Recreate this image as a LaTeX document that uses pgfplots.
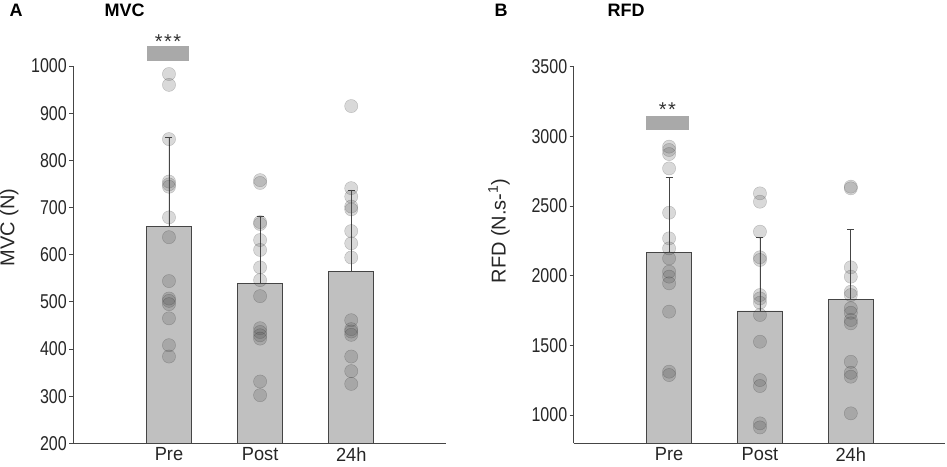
\documentclass[border=0pt]{standalone}
\usepackage{fontspec}
\setmainfont{Liberation Sans}
\newfontfamily\digitfont{Liberation Sans}[FakeStretch=0.8]
\newfontfamily\catfont{Liberation Sans}[FakeStretch=0.96]
\usepackage{pgfplots}
\usepackage{pgfplotstable}
\pgfplotsset{compat=1.18}
\definecolor{barfill}{HTML}{C0C0C0}
\definecolor{edge}{HTML}{454545}
\definecolor{dotc}{HTML}{525252}
\definecolor{sigc}{HTML}{A9A9A9}

\pgfplotstableread{
x y e
0 659 190
1 538.5 142
2 564 173
}\mvcbars
\pgfplotstableread{
x y e
0 2168 535
1 1747 531
2 1830 505
}\rfdbars
\pgfplotstableread{
x y
0 983
0 960
0 845
0 755
0 749
0 744
0 679
0 637
0 544
0 507
0 502
0 495
0 465
0 408
0 384
1 758
1 752
1 669
1 665
1 631
1 610
1 573
1 546
1 512
1 444
1 436
1 429
1 422
1 331
1 302
2 915
2 741
2 723
2 702
2 696
2 650
2 624
2 594
2 461
2 442
2 437
2 430
2 384
2 353
2 326
}\mvcpts
\pgfplotstableread{
x y
0 2926
0 2902
0 2873
0 2770
0 2452
0 2268
0 2196
0 2124
0 2029
0 1993
0 1945
0 1742
0 1311
0 1287
1 2591
1 2531
1 2316
1 2132
1 2113
1 1861
1 1837
1 1806
1 1718
1 1526
1 1251
1 1208
1 940
1 911
2 2639
2 2627
2 2060
2 1993
2 1885
2 1861
2 1766
2 1734
2 1682
2 1658
2 1382
2 1303
2 1275
2 1012
}\rfdpts

\pgfplotsset{mystyle/.style={
  scale only axis, width=372.7pt, height=377.3pt,
  axis x line=bottom, axis y line=left,
  axis line style={edge, line width=0.8pt, -},
  xmin=-1.05, xmax=3.04,
  xtick={0,1,2}, xticklabels={Pre,Post,24h},
  x tick style={draw=none},
  y tick style={edge, line width=0.8pt},
  tick align=outside, major tick length=4pt,
  yticklabel style={font=\fontsize{20}{22}\selectfont\digitfont, text=black!85, xshift=1pt},
  xticklabel style={font=\fontsize{19}{20}\selectfont\catfont, text=black!85, inner sep=0pt, anchor=north, yshift=0pt},
  label style={font=\fontsize{20}{22}\selectfont, text=black!85},
  /pgf/number format/assume math mode=true,
  /pgf/number format/1000 sep={},
  clip=false,
}}

\begin{document}
\begin{tikzpicture}
\useasboundingbox (0,0) rectangle (947pt,466pt);
\node[anchor=base west, font=\fontsize{18}{20}\selectfont\bfseries] at (6pt,449pt) {A};
\node[anchor=base west, font=\fontsize{18}{20}\selectfont\bfseries] at (101pt,449pt) {MVC};
\node[anchor=base west, font=\fontsize{18}{20}\selectfont\bfseries] at (491pt,449pt) {B};
\node[anchor=base west, font=\fontsize{18}{20}\selectfont\bfseries] at (604pt,449pt) {RFD};

\begin{axis}[mystyle, at={(73.3pt,22.7pt)}, anchor=south west,
  ymin=200, ymax=1000, ytick={200,300,...,1000},
  ylabel={MVC (N)},
  ylabel style={at={(axis description cs:-0.172,0.572)}, anchor=center}]
\addplot[ybar, bar width=0.495, fill=barfill, draw=edge, line width=0.8pt,
  error bars/.cd, y dir=plus, y explicit,
  error bar style={edge, line width=0.8pt},
  error mark options={rotate=90, mark size=3.5pt, edge, line width=0.8pt}]
  table[x=x, y=y, y error=e] {\mvcbars};
\addplot[only marks, mark=*, mark size=6.6pt, mark options={fill=dotc, draw=none, opacity=0.22}] table[x=x,y=y] {\mvcpts};
\addplot[fill=sigc, draw=none] coordinates {(-0.245,1011) (0.225,1011) (0.225,1042) (-0.245,1042)} -- cycle;
\node[font=\fontsize{20}{20}\selectfont, text=black!80] at (axis cs:-0.01,1052) {*\kern1.5pt*\kern1.5pt*};
\end{axis}

\begin{axis}[mystyle, at={(573.7pt,22.7pt)}, anchor=south west, width=371.6pt, height=376.6pt,
  ymin=797, ymax=3500, ytick={1000,1500,...,3500},
  ylabel={RFD (N.s-\textsuperscript{1})},
  ylabel style={at={(axis description cs:-0.201,0.564)}, anchor=center}]
\addplot[ybar, bar width=0.495, fill=barfill, draw=edge, line width=0.8pt,
  error bars/.cd, y dir=plus, y explicit,
  error bar style={edge, line width=0.8pt},
  error mark options={rotate=90, mark size=3.5pt, edge, line width=0.8pt}]
  table[x=x, y=y, y error=e] {\rfdbars};
\addplot[only marks, mark=*, mark size=6.6pt, mark options={fill=dotc, draw=none, opacity=0.22}] table[x=x,y=y] {\rfdpts};
\addplot[fill=sigc, draw=none] coordinates {(-0.258,3043) (0.22,3043) (0.22,3148) (-0.258,3148)} -- cycle;
\node[font=\fontsize{20}{20}\selectfont, text=black!80] at (axis cs:-0.02,3190) {*\kern1.5pt*};
\end{axis}
\end{tikzpicture}
\end{document}
